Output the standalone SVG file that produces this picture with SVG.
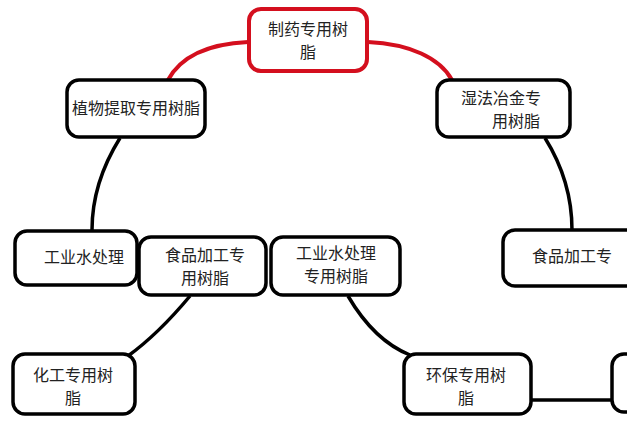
<svg xmlns="http://www.w3.org/2000/svg" width="627" height="421" viewBox="0 0 627 421">
<style>
.n rect{fill:#fff;stroke:#000;stroke-width:3.5}
.root rect{stroke:#d40f1e;stroke-width:4}
text{font-family:"Noto Sans CJK SC","Noto Sans",sans-serif;font-size:16px;fill:#222;text-anchor:middle}
.c path{fill:none;stroke:#000;stroke-width:3.5}
.c .r{stroke:#d40f1e;stroke-width:4}
</style>
<rect width="627" height="421" fill="#fff"/>
<g class="c" id="connectors">
<path class="r" d="M248,42 C205,44 180,58 168,80"/>
<path class="r" d="M368,42 C410,44 440,58 452,80"/>
<path d="M120,138 C100,170 92,200 92,230"/>
<path d="M545,138 C565,170 572,200 572,230"/>
<path d="M190,296 C170,320 150,340 128,356"/>
<path d="M348,296 C365,325 385,345 410,355"/>
<path d="M531,400 L612,400"/>
</g>
<g class="n root" id="n-pharma">
<rect x="249" y="9" width="118" height="62" rx="12"/>
<text x="308" y="35">制药专用树</text>
<text x="308" y="58">脂</text>
</g>
<g class="n" id="n-extract">
<rect x="67" y="80" width="138" height="57" rx="12"/>
<text x="136" y="114">植物提取专用树脂</text>
</g>
<g class="n" id="n-metal">
<rect x="437" y="80" width="133" height="57" rx="12"/>
<text x="501" y="104">湿法冶金专</text>
<text x="516" y="127">用树脂</text>
</g>
<g class="n" id="n-water-l">
<rect x="15" y="231" width="122" height="54" rx="12"/>
<text x="84" y="263">工业水处理</text>
</g>
<g class="n" id="n-food">
<rect x="139" y="237" width="127" height="58" rx="12"/>
<text x="205" y="261">食品加工专</text>
<text x="205" y="284">用树脂</text>
</g>
<g class="n" id="n-water">
<rect x="271" y="237" width="129" height="58" rx="12"/>
<text x="336" y="259">工业水处理</text>
<text x="336" y="282">专用树脂</text>
</g>
<g class="n" id="n-food-r">
<rect x="503" y="230" width="140" height="56" rx="12"/>
<text x="572" y="262">食品加工专</text>
</g>
<g class="n" id="n-chem">
<rect x="13" y="354" width="122" height="60" rx="12"/>
<text x="73" y="381">化工专用树</text>
<text x="73" y="404">脂</text>
</g>
<g class="n" id="n-env">
<rect x="404" y="354" width="127" height="60" rx="12"/>
<text x="466" y="381">环保专用树</text>
<text x="466" y="404">脂</text>
</g>
<g class="n" id="n-right">
<rect x="612" y="354" width="60" height="58" rx="12"/>
</g>
</svg>
